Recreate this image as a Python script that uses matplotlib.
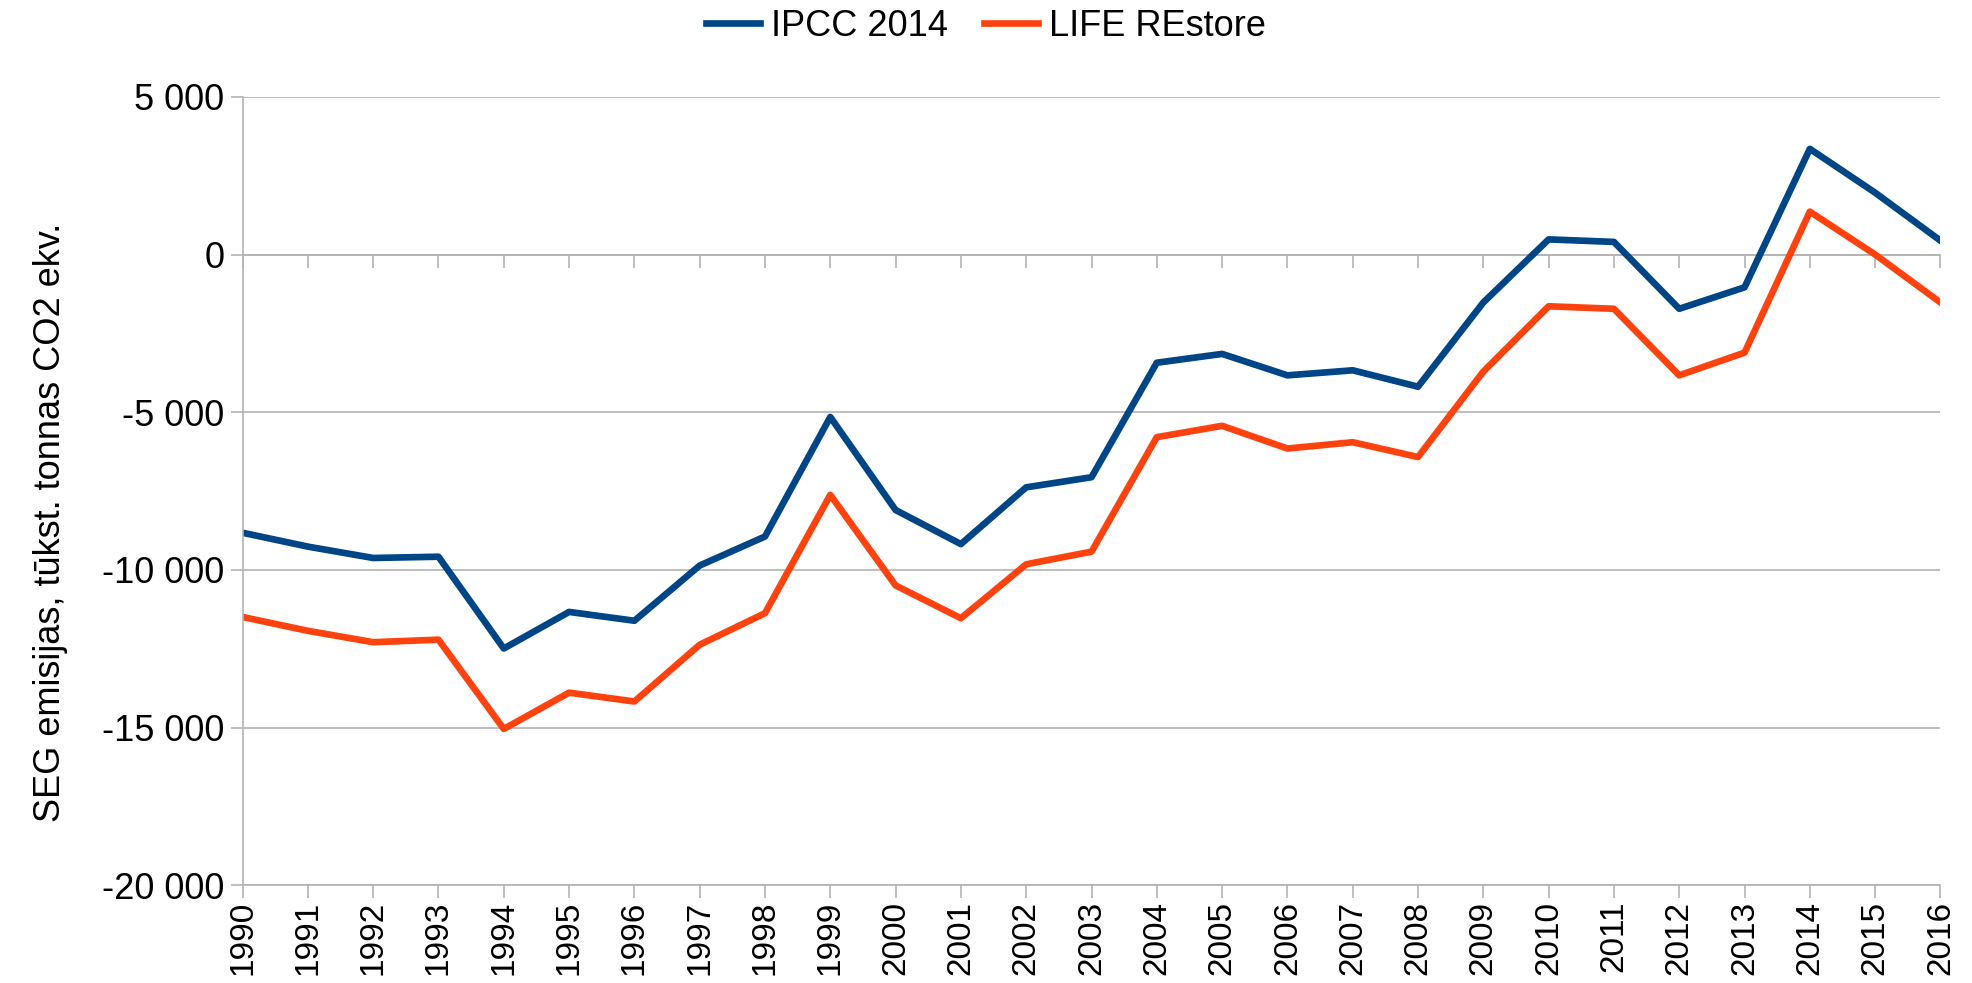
import matplotlib
matplotlib.use("Agg")
import matplotlib.pyplot as plt
from matplotlib.ticker import FuncFormatter

years = list(range(1990, 2017))
ipcc = [-8820, -9260, -9620, -9580, -12490, -11330, -11610, -9860, -8940, -5150,
        -8100, -9180, -7380, -7060, -3430, -3150, -3830, -3670, -4190, -1520,
        480, 400, -1720, -1040, 3350, 1960, 440]
life = [-11490, -11930, -12290, -12210, -15040, -13890, -14170, -12370, -11370, -7620,
        -10490, -11530, -9820, -9420, -5790, -5430, -6150, -5950, -6420, -3710,
        -1640, -1720, -3830, -3110, 1360, 0, -1520]
yticks = [5000, 0, -5000, -10000, -15000, -20000]
ylabel = "SEG emisijas, tūkst. tonnas CO2 ekv."

plt.rcParams['font.family'] = ['Liberation Sans', 'DejaVu Sans']
grid_col = "#b3b3b3"

fig = plt.figure(figsize=(19.72, 9.83), dpi=100)
ax = fig.add_axes([0.123, 0.0993, 0.861, 0.8022])

ax.plot(years, ipcc, color="#004586", lw=4.8, label="IPCC 2014")
ax.plot(years, life, color="#ff420e", lw=4.8, label="LIFE REstore")

ax.set_xlim(1990, 2016)
ax.set_ylim(-20000, 5000)
ax.set_yticks(yticks)
ax.yaxis.set_major_formatter(FuncFormatter(lambda v, p: "{:,}".format(int(v)).replace(",", " ")))
ax.set_xticks(years)
ax.set_xticklabels([str(y) for y in years], rotation=90, fontsize=24)
ax.tick_params(axis="y", labelsize=26, length=9, color=grid_col, width=1.2, pad=4)
ax.tick_params(axis="x", length=9, color=grid_col, width=1.2, pad=2)
ax.grid(axis="y", color=grid_col, lw=1.2)
ax.set_axisbelow(True)

for s in ["top", "right"]:
    ax.spines[s].set_visible(False)
for s in ["left", "bottom"]:
    ax.spines[s].set_color(grid_col)
    ax.spines[s].set_linewidth(1.2)

# x axis line crossing at zero, tick marks hanging below it
sec = ax.secondary_xaxis(0.8)
sec.set_xticks(years)
sec.tick_params(axis="x", direction="in", length=9, color=grid_col, width=1.2,
                labelbottom=False, labeltop=False)
sec.spines["bottom"].set_visible(False)
sec.spines["top"].set_color(grid_col)
sec.spines["top"].set_linewidth(1.2)

ax.set_ylabel(ylabel, fontsize=26)
ax.yaxis.set_label_coords(-0.103, 0.46)

fig.legend(loc="upper center", bbox_to_anchor=(0.5, 1.024), ncol=2, frameon=False,
           fontsize=26, handlelength=1.5, columnspacing=1.0, handletextpad=0.3)

fig.savefig("out.png", dpi=100)
